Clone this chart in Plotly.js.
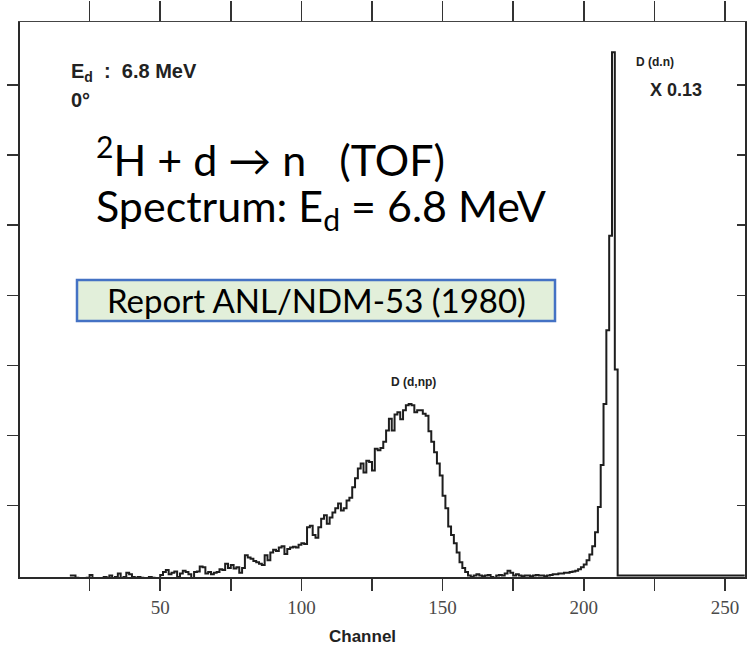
<!DOCTYPE html>
<html>
<head>
<meta charset="utf-8">
<script src="https://cdn.plot.ly/plotly-3.0.1.min.js"></script>
<style>html,body{margin:0;padding:0;background:#fff;}#chart{width:747px;height:646px;}</style>
</head>
<body>
<div id="chart"></div>
<script>
// Channel numbers of the TOF spectrum (step histogram)
const channels = [
  18,19,20,21,22,23,24,25,26,27,
  28,29,30,31,32,33,34,35,36,37,
  38,39,40,41,42,43,44,45,46,47,
  48,49,50,51,52,53,54,55,56,57,
  58,59,60,61,62,63,64,65,66,67,
  68,69,70,71,72,73,74,75,76,77,
  78,79,80,81,82,83,84,85,86,87,
  88,89,90,91,92,93,94,95,96,97,
  98,99,100,101,102,103,104,105,106,107,
  108,109,110,111,112,113,114,115,116,117,
  118,119,120,121,122,123,124,125,126,127,
  128,129,130,131,132,133,134,135,136,137,
  138,139,140,141,142,143,144,145,146,147,
  148,149,150,151,152,153,154,155,156,157,
  158,159,160,161,162,163,164,165,166,167,
  168,169,170,171,172,173,174,175,176,177,
  178,179,180,181,182,183,184,185,186,187,
  188,189,190,191,192,193,194,195,196,197,
  198,199,200,201,202,203,204,205,206,207,
  208,209,210,211,212,257
];
// Counts (arbitrary units = one left-axis tick interval); D(d,n) peak scaled x0.13
const counts = [
  0,0,-0.03,-0.05,-0.04,-0.06,-0.03,0.01,-0.05,-0.06,
  -0.04,-0.06,-0.02,-0.03,0.0,-0.04,-0.02,0.03,-0.05,-0.02,
  0.04,0.02,-0.02,-0.04,-0.02,-0.03,-0.10,-0.04,-0.02,-0.03,
  -0.09,-0.04,0.01,0.05,0.08,0.02,0.04,0.06,-0.02,0.03,
  0.07,0.05,0.02,-0.07,0.05,0.06,0.13,0.12,0.03,0.05,
  0.02,0.04,0.05,0.09,0.08,0.17,0.11,0.15,0.10,0.12,
  0.04,0.11,0.29,0.26,0.24,0.21,0.19,0.17,0.15,0.29,
  0.22,0.33,0.37,0.35,0.40,0.42,0.31,0.38,0.40,0.41,
  0.40,0.44,0.46,0.45,0.69,0.71,0.58,0.54,0.69,0.81,
  0.86,0.74,0.83,0.90,0.96,1.03,0.93,0.96,1.07,1.11,
  1.26,1.39,1.53,1.60,1.47,1.64,1.62,1.50,1.81,1.79,
  1.82,1.91,2.07,2.24,2.07,2.30,2.33,2.23,2.36,2.43,
  2.45,2.43,2.33,2.36,2.36,2.31,2.28,2.06,1.91,1.76,
  1.60,1.43,1.14,0.96,0.70,0.58,0.46,0.33,0.19,0.11,
  0.05,0.00,-0.02,0.00,0.02,0.00,-0.01,0.00,0.01,-0.02,
  -0.04,0.00,0.01,0.00,0.03,0.07,0.04,0.00,0.02,0.00,
  -0.01,0.00,0.00,-0.01,0.00,0.01,0.00,0.00,-0.01,0.00,
  0.01,0.02,0.02,0.03,0.03,0.04,0.04,0.05,0.06,0.07,
  0.09,0.12,0.16,0.22,0.30,0.42,0.62,0.98,1.58,2.45,
  3.50,4.85,7.47,2.94,0,0
];
const xTickVals = [50,100,150,200,250];
const xTickText = ['50','100','150','200','250'];
const xTopTickVals = [25,50,75,100,125,150,175,200,225,250];
const yTickVals = [1,2,3,4,5,6,7];

const W = 747, H = 646, ML = 20, MR = 2, MT = 22, MB = 69;
const PW = W - ML - MR, PH = H - MT - MB;
const px = X => (X - ML) / PW;
const py = Y => (H - MB - Y) / PH;

const xRange = [0.35, 257.1];
const yRange = [-0.02, 7.9];

const traces = [
  {x: channels, y: counts, type: 'scatter', mode: 'lines',
   line: {shape: 'hv', color: '#1e1e1e', width: 2}, hoverinfo: 'skip', showlegend: false},
  {x: [null], y: [null], xaxis: 'x2', yaxis: 'y2', type: 'scatter', mode: 'lines',
   hoverinfo: 'skip', showlegend: false}
];

const sans = 'Liberation Sans, Arial, sans-serif';
const slide = 'Lato, Open Sans, sans-serif';

const layout = {
  width: W, height: H,
  margin: {l: ML, r: MR, t: MT, b: MB, pad: 0},
  paper_bgcolor: '#ffffff', plot_bgcolor: '#ffffff',
  showlegend: false,
  xaxis: {range: xRange, tickmode: 'array', tickvals: xTickVals, ticktext: xTickText,
    ticks: 'outside', ticklen: 12, tickwidth: 1.5, tickcolor: '#333',
    minor: {tickmode: 'linear', tick0: 0, dtick: 25, ticks: 'outside', ticklen: 12,
            tickwidth: 1.5, tickcolor: '#333', showgrid: false},
    showline: true, linecolor: '#2a2a2a', linewidth: 2, showgrid: false, zeroline: false,
    tickfont: {family: 'Liberation Serif, DejaVu Serif, serif', size: 19, color: '#4a4a4a'}},
  xaxis2: {range: xRange, overlaying: 'x', side: 'top', anchor: 'y', tickmode: 'array',
    tickvals: xTopTickVals, ticks: 'outside', ticklen: 20, tickwidth: 1.5, tickcolor: '#333',
    showticklabels: false, showline: true, linecolor: '#444', linewidth: 1.5,
    showgrid: false, zeroline: false},
  yaxis: {range: yRange, tickmode: 'array', tickvals: yTickVals, ticks: 'outside',
    ticklen: 11, tickwidth: 1.5, tickcolor: '#333', showticklabels: false,
    showline: true, linecolor: '#2a2a2a', linewidth: 2, showgrid: false, zeroline: false},
  yaxis2: {range: yRange, overlaying: 'y', side: 'right', anchor: 'x', tickmode: 'array',
    tickvals: yTickVals, ticks: 'inside', ticklen: 8, tickwidth: 1.5, tickcolor: '#333',
    showticklabels: false, showline: true, linecolor: '#2a2a2a', linewidth: 2,
    showgrid: false, zeroline: false},
  shapes: [
    {type: 'rect', xref: 'paper', yref: 'paper', layer: 'above',
     x0: px(77), x1: px(555), y0: py(321), y1: py(280),
     fillcolor: '#e2efda', line: {color: '#4472c4', width: 2.5}}
  ],
  annotations: [
    {xref: 'paper', yref: 'paper', x: px(69), y: py(73), xanchor: 'left', yanchor: 'middle',
     text: '<b>E<sub>d</sub>\u00a0 :\u00a0 6.8 MeV</b>', showarrow: false,
     font: {family: sans, size: 20, color: '#222'}},
    {xref: 'paper', yref: 'paper', x: px(69), y: py(100), xanchor: 'left', yanchor: 'middle',
     text: '<b>0°</b>', showarrow: false, font: {family: sans, size: 20, color: '#222'}},
    {xref: 'paper', yref: 'paper', x: px(94), y: py(157), xanchor: 'left', yanchor: 'middle',
     text: '<sup>2</sup>H + d \u2192 n\u00a0\u00a0\u00a0(TOF)', showarrow: false,
     font: {family: slide, size: 43, color: '#000'}},
    {xref: 'paper', yref: 'paper', x: px(94), y: py(208), xanchor: 'left', yanchor: 'middle',
     text: 'Spectrum: E<sub>d</sub> = 6.8 MeV', showarrow: false,
     font: {family: slide, size: 43, color: '#000'}},
    {xref: 'paper', yref: 'paper', x: px(316), y: py(300), xanchor: 'center', yanchor: 'middle',
     text: 'Report ANL/NDM-53 (1980)', showarrow: false,
     font: {family: slide, size: 33, color: '#000'}},
    {xref: 'paper', yref: 'paper', x: px(413), y: py(382), xanchor: 'center', yanchor: 'middle',
     text: '<b>D (d,np)</b>', showarrow: false, font: {family: sans, size: 12, color: '#222'}},
    {xref: 'paper', yref: 'paper', x: px(655), y: py(62), xanchor: 'center', yanchor: 'middle',
     text: '<b>D (d.n)</b>', showarrow: false, font: {family: sans, size: 12, color: '#222'}},
    {xref: 'paper', yref: 'paper', x: px(676), y: py(90), xanchor: 'center', yanchor: 'middle',
     text: '<b>X 0.13</b>', showarrow: false, font: {family: sans, size: 18, color: '#222'}},
    {xref: 'paper', yref: 'paper', x: px(362), y: py(636), xanchor: 'center', yanchor: 'middle',
     text: '<b>Channel</b>', showarrow: false, font: {family: sans, size: 17, color: '#222'}}
  ]
};

Plotly.newPlot('chart', traces, layout, {displayModeBar: false, staticPlot: true});
</script>
</body>
</html>
